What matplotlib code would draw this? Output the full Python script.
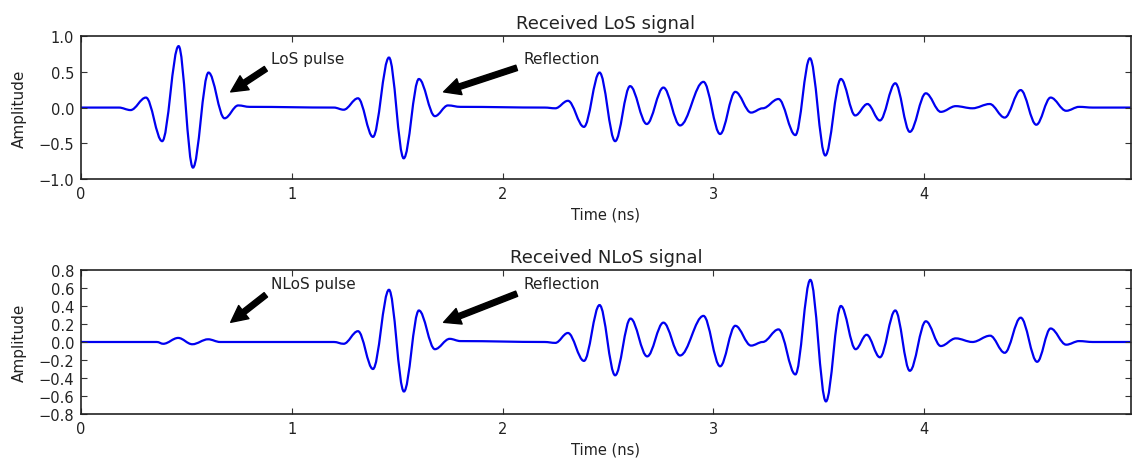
import matplotlib
matplotlib.use("Agg")
import matplotlib.pyplot as plt
from matplotlib.path import Path
from matplotlib.patches import PathPatch

# Extremum points (time in ns, amplitude)
los_time = [0.0, 0.18, 0.235, 0.308, 0.385, 0.463, 0.531, 0.605, 0.681, 0.746, 0.80,
            1.20, 1.246, 1.314, 1.385, 1.461, 1.531, 1.603, 1.679, 1.741, 1.80,
            2.20, 2.25, 2.31, 2.386, 2.460, 2.534, 2.605, 2.684, 2.763, 2.842,
            2.953, 3.032, 3.104, 3.179, 3.234, 3.309, 3.389, 3.458, 3.531, 3.605,
            3.673, 3.731, 3.790, 3.863, 3.932, 4.008, 4.079, 4.150, 4.229, 4.311,
            4.382, 4.458, 4.532, 4.600, 4.674, 4.735, 4.80, 4.98]
los_amp = [0.0, 0.0, -0.035, 0.14, -0.47, 0.86, -0.84, 0.49, -0.15, 0.03, 0.01,
           0.0, -0.03, 0.13, -0.41, 0.70, -0.71, 0.40, -0.12, 0.03, 0.01,
           0.0, -0.01, 0.095, -0.27, 0.49, -0.47, 0.30, -0.23, 0.28, -0.25,
           0.36, -0.37, 0.22, -0.07, -0.01, 0.12, -0.385, 0.69, -0.67, 0.40,
           -0.11, 0.05, -0.18, 0.34, -0.34, 0.20, -0.06, 0.02, -0.01, 0.05,
           -0.14, 0.245, -0.24, 0.14, -0.045, 0.01, 0.0, 0.0]

nlos_time = [0.0, 0.36, 0.39, 0.461, 0.528, 0.603, 0.66,
             1.20, 1.246, 1.314, 1.385, 1.461, 1.532, 1.603, 1.679, 1.749, 1.80,
             2.20, 2.25, 2.31, 2.386, 2.460, 2.534, 2.607, 2.686, 2.763, 2.842,
             2.953, 3.032, 3.104, 3.179, 3.234, 3.309, 3.389, 3.460, 3.534, 3.605,
             3.675, 3.727, 3.790, 3.863, 3.932, 4.008, 4.079, 4.150, 4.229, 4.313,
             4.382, 4.458, 4.536, 4.600, 4.674, 4.735, 4.80, 4.98]
nlos_amp = [0.0, 0.0, -0.02, 0.045, -0.025, 0.03, 0.0,
            0.0, -0.02, 0.12, -0.30, 0.58, -0.55, 0.35, -0.08, 0.035, 0.01,
            0.0, -0.01, 0.10, -0.21, 0.41, -0.37, 0.26, -0.16, 0.215, -0.15,
            0.29, -0.27, 0.18, -0.04, 0.0, 0.14, -0.36, 0.69, -0.66, 0.40,
            -0.08, 0.08, -0.17, 0.35, -0.32, 0.23, -0.045, 0.04, 0.0, 0.07,
            -0.12, 0.27, -0.22, 0.15, -0.03, 0.01, 0.0, 0.0]

titles = ["Received LoS signal", "Received NLoS signal"]
pulse_labels = ["LoS pulse", "NLoS pulse"]
y_ticks = [[-1.0, -0.5, 0.0, 0.5, 1.0],
           [-0.8, -0.6, -0.4, -0.2, 0.0, 0.2, 0.4, 0.6, 0.8]]
x_ticks = [0, 1, 2, 3, 4]


def smooth_path(t, v, k=0.36):
    """Cubic Bezier path through the read extrema, horizontal tangents at each."""
    verts = [(t[0], v[0])]
    codes = [Path.MOVETO]
    for i in range(len(t) - 1):
        dt = t[i + 1] - t[i]
        verts += [(t[i] + k * dt, v[i]), (t[i + 1] - k * dt, v[i + 1]),
                  (t[i + 1], v[i + 1])]
        codes += [Path.CURVE4] * 3
    return Path(verts, codes)


fig = plt.figure(figsize=(11.33, 4.64), dpi=100)
fig.patch.set_facecolor("white")
ax1 = fig.add_axes([0.0715, 0.612, 0.9265, 0.308])
ax2 = fig.add_axes([0.0715, 0.1056, 0.9265, 0.3104])

series = [(los_time, los_amp), (nlos_time, nlos_amp)]
annot = [((0.70, 0.20), (0.90, 0.63)), ((0.70, 0.20), (0.90, 0.60))]
refl = [((1.70, 0.20), (2.10, 0.63)), ((1.70, 0.20), (2.10, 0.60))]
txt = "#222222"

for i, ax in enumerate([ax1, ax2]):
    t, v = series[i]
    ax.add_patch(PathPatch(smooth_path(t, v), facecolor="none",
                           edgecolor="#0000f0", lw=1.6))
    ax.set_xlim(0, 4.98)
    ax.set_ylim(y_ticks[i][0], y_ticks[i][-1])
    ax.set_xticks(x_ticks)
    ax.set_yticks(y_ticks[i])
    ax.tick_params(direction="in", top=True, right=True, length=4,
                   labelsize=10.5, pad=5, color="#333333", labelcolor=txt)
    for s in ax.spines.values():
        s.set_color("#222222")
        s.set_linewidth(1.2)
    ax.set_title(titles[i], fontsize=13, color=txt)
    ax.set_xlabel("Time (ns)", fontsize=10.5, color=txt)
    ax.set_ylabel("Amplitude", fontsize=11, color=txt, labelpad=8)
    (xy1, xt1), (xy2, xt2) = annot[i], refl[i]
    ax.annotate(pulse_labels[i], xy=xy1, xytext=xt1, fontsize=11, color=txt,
                arrowprops=dict(facecolor="black", shrink=0.05))
    ax.annotate("Reflection", xy=xy2, xytext=xt2, fontsize=11, color=txt,
                arrowprops=dict(facecolor="black", shrink=0.05))

fig.savefig("out.png", dpi=100, facecolor="white")
